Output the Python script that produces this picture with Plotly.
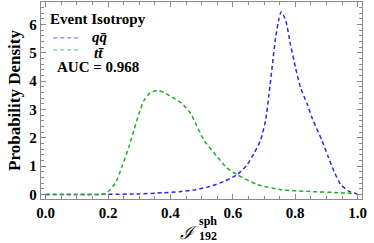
import plotly.graph_objects as go

# ---- data ----
qq_x = [0.0, 0.1, 0.2, 0.3, 0.374, 0.43, 0.481, 0.529, 0.571, 0.614, 0.646, 0.668,
        0.689, 0.705, 0.716, 0.727, 0.737, 0.748, 0.755, 0.769, 0.785, 0.801, 0.817,
        0.838, 0.855, 0.885, 0.905, 0.925, 0.946, 0.972, 0.994, 1.0]
qq_y = [0.0, 0.0, 0.005, 0.02, 0.06, 0.1, 0.17, 0.29, 0.46, 0.70, 1.05, 1.45,
        1.92, 2.61, 3.54, 4.59, 5.52, 6.21, 6.45, 6.16, 5.28, 4.47, 3.77,
        3.2, 2.67, 1.92, 1.35, 0.8, 0.35, 0.11, 0.03, 0.0]

tt_x = [0.0, 0.15, 0.192, 0.224, 0.245, 0.267, 0.283, 0.299, 0.315, 0.336, 0.358,
        0.379, 0.406, 0.438, 0.465, 0.481, 0.507, 0.55, 0.582, 0.614, 0.678, 0.753,
        0.838, 0.946, 0.99]
tt_y = [0.0, 0.0, 0.02, 0.41, 0.99, 1.68, 2.26, 2.85, 3.31, 3.6, 3.66,
        3.6, 3.43, 3.2, 2.85, 2.5, 1.92, 1.33, 0.93, 0.70, 0.35, 0.17,
        0.11, 0.06, 0.03]

series_names = ["<i>q</i><i>q\u0304</i>", "<i>t</i><i>t\u0304</i>"]
series_colors = ["#2828f0", "#1fae1f"]
legend_title = "Event Isotropy"
auc_text = "AUC = 0.968"
x_ticks = [0.0, 0.2, 0.4, 0.6, 0.8, 1.0]
x_ticklabels = ["0.0", "0.2", "0.4", "0.6", "0.8", "1.0"]
y_ticks = [0, 1, 2, 3, 4, 5, 6]

FONT = "Times New Roman, Liberation Serif, serif"
DASH = "4px,3px"
fig = go.Figure()
for xs, ys, nm, col in [(qq_x, qq_y, series_names[0], series_colors[0]),
                        (tt_x, tt_y, series_names[1], series_colors[1])]:
    fig.add_trace(go.Scatter(x=xs, y=ys, mode="lines", name=nm, hoverinfo="skip",
                             line=dict(color=col, width=1.5, dash=DASH, shape="spline", smoothing=0.6),
                             showlegend=False))

axis_common = dict(showline=True, linecolor="#8a8a8a", linewidth=1.3, mirror="allticks",
                   ticks="inside", tickcolor="#8a8a8a", showgrid=False, zeroline=False,
                   automargin=False,
                   tickfont=dict(family=FONT, size=15, color="black", weight="bold"))
fig.update_xaxes(range=[-0.0147, 1.014], tickvals=x_ticks, ticktext=x_ticklabels, ticklen=5,
                 minor=dict(ticks="inside", dtick=0.05, ticklen=3, tickcolor="#8a8a8a"),
                 **axis_common)
fig.update_yaxes(range=[-0.16, 6.79], tickvals=y_ticks, ticklen=5,
                 minor=dict(ticks="inside", dtick=0.2, ticklen=3, tickcolor="#8a8a8a"),
                 title=dict(text="<b>Probability Density</b>", font=dict(family=FONT, size=17, color="black"),
                            standoff=4),
                 **axis_common)

# legend (manual, inside the frame, top-left)
ann = [
    dict(x=0.022, y=0.915, xref="paper", yref="paper", text="<b>" + legend_title + "</b>",
         showarrow=False, xanchor="left", yanchor="middle", font=dict(family=FONT, size=15, color="black")),
    dict(x=0.154, y=0.822, xref="paper", yref="paper", text="<b>" + series_names[0] + "</b>",
         showarrow=False, xanchor="left", yanchor="middle", font=dict(family=FONT, size=15, color="black")),
    dict(x=0.160, y=0.742, xref="paper", yref="paper", text="<b>" + series_names[1] + "</b>",
         showarrow=False, xanchor="left", yanchor="middle", font=dict(family=FONT, size=15, color="black")),
    dict(x=0.044, y=0.668, xref="paper", yref="paper", text="<b>" + auc_text + "</b>",
         showarrow=False, xanchor="left", yanchor="middle", font=dict(family=FONT, size=15, color="black")),
    # x-axis title: script I with stacked super/subscript
    dict(x=0.462, y=-0.168, xref="paper", yref="paper", text="<i>\u2110</i>",
         showarrow=False, xanchor="center", yanchor="middle", font=dict(family="DejaVu Serif", size=18, color="black")),
    dict(x=0.485, y=-0.112, xref="paper", yref="paper", text="<b>sph</b>",
         showarrow=False, xanchor="left", yanchor="middle", font=dict(family=FONT, size=12, color="black")),
    dict(x=0.485, y=-0.19, xref="paper", yref="paper", text="<b>192</b>",
         showarrow=False, xanchor="left", yanchor="middle", font=dict(family=FONT, size=12, color="black")),
]
shapes = []
for i, col in enumerate(series_colors):
    yy = 0.818 - 0.061 * i
    shapes.append(dict(type="line", xref="paper", yref="paper", x0=0.038, x1=0.122, y0=yy, y1=yy,
                       line=dict(color=col, width=1.2, dash=DASH), opacity=0.6))

fig.update_layout(width=374, height=243, margin=dict(l=41, r=12, t=1.5, b=44),
                  paper_bgcolor="white", plot_bgcolor="white", hovermode=False,
                  annotations=ann, shapes=shapes, showlegend=False)
fig.write_html("out.html", config={"displayModeBar": False},
               post_script="document.body.style.margin='0';document.body.style.overflow='hidden';")
